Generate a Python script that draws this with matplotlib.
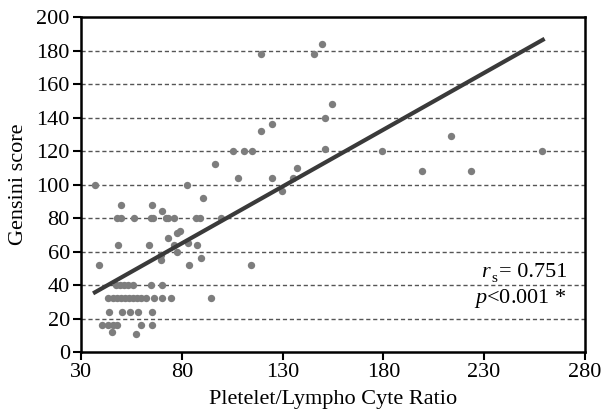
import matplotlib.pyplot as plt

plt.rcParams['font.family'] = 'Liberation Serif'
plt.rcParams['mathtext.fontset'] = 'custom'
plt.rcParams['mathtext.rm'] = 'Liberation Serif'
plt.rcParams['mathtext.it'] = 'Liberation Serif:italic'

# puntos (PLR, Gensini)
plr = [37, 82.8, 90.5, 96.7, 105.6, 110.7, 114.8, 107.7, 119.4, 119.4, 124.6, 124.6,
       129.7, 135.1, 137.4, 145.5, 149.5, 154.6, 151.3, 151.3, 213.8, 179.3, 199.1,
       223.7, 258.9,
       49.8, 65, 38.9, 48, 49.8, 56.2, 64.5, 65.8, 72.1, 73.3, 76.2, 87.3, 88.9, 99.7,
       70, 48.2, 63.8, 73.3, 77.7, 79, 76, 83.1, 87.6, 77.7, 69.6, 69.6, 89.7, 83.6,
       114.5, 94.5,
       47.3, 49.3, 51.3, 53.4, 55.6, 64.5, 70,
       43.5, 46, 48, 50, 52, 54, 56, 58, 60, 62.5, 66, 70, 74.5,
       44, 50.5, 54.5, 58.5, 65,
       40.2, 43.5, 46, 48, 60, 65,
       45.2, 57.2]
gensini = [100, 100, 92, 112, 120, 120, 120, 104, 178, 132, 136, 104,
           96, 104, 110, 178, 184, 148, 140, 121, 129, 120, 108,
           108, 120,
           88, 88, 52, 80, 80, 80, 80, 80, 80, 80, 80, 80, 80, 80,
           84, 64, 64, 68, 71, 72, 64, 65, 64, 60, 58, 55, 56, 52,
           52, 32,
           40, 40, 40, 40, 40, 40, 40,
           32, 32, 32, 32, 32, 32, 32, 32, 32, 32, 32, 32, 32,
           24, 24, 24, 24, 24,
           16, 16, 16, 16, 16, 16,
           12, 11]

# recta de regresion
fit_x = [36, 260]
fit_y = [35, 187]

fig = plt.figure(figsize=(6.03, 4.2), dpi=100)
ax = fig.add_axes([0.1343, 0.1619, 0.8357, 0.7976])

for yv in range(20, 200, 20):
    ax.axhline(yv, color='#555555', lw=1, ls=(0, (3, 2)), zorder=1)

ax.scatter(plr, gensini, s=28, color='#7d7d7d', zorder=2, linewidths=0)
ax.plot(fit_x, fit_y, color='#3a3a3a', lw=3, solid_capstyle='butt', zorder=3)

ax.set_xlim(30, 280)
ax.set_ylim(0, 200)
ax.set_xticks([30, 80, 130, 180, 230, 280])
ax.set_yticks(range(0, 201, 20))
ax.tick_params(direction='out', length=6, width=1.5, labelsize=16, pad=2)
for s in ax.spines.values():
    s.set_linewidth(1.8)

ax.set_xlabel("Pletelet/Lympho Cyte Ratio", fontsize=16, labelpad=6)
ax.set_ylabel("Gensini score", fontsize=16, labelpad=6)

ax.text(228.5, 44.8, r'$r$', fontsize=16, ha='left', va='baseline')
ax.text(233.8, 41.8, 's', fontsize=11, ha='left', va='baseline')
ax.text(237.5, 44.8, '= 0.751', fontsize=16, ha='left', va='baseline')
ax.text(225, 29.3, r'$p$<0.001 *', fontsize=16, ha='left', va='baseline')

fig.savefig("out.png", dpi=100)
